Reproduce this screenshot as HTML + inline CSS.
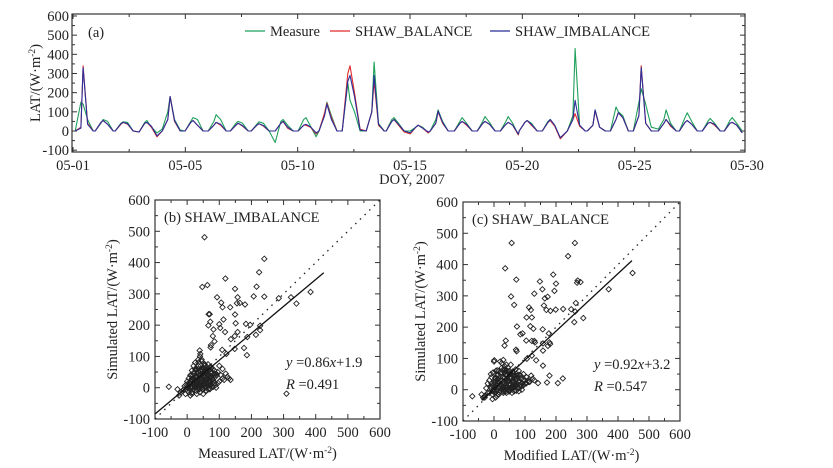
<!DOCTYPE html>
<html><head><meta charset="utf-8">
<style>
html,body{margin:0;padding:0;background:#fff;}
svg{display:block;font-family:"Liberation Serif","Times New Roman",serif;}
</style></head>
<body>
<svg id="fig" width="833" height="468" viewBox="0 0 833 468" xmlns="http://www.w3.org/2000/svg" font-family="Liberation Serif, serif">
<rect x="0" y="0" width="833" height="468" fill="#fff"/>
<g id="pa"></g>
<g id="pb"></g>
<g id="pc"></g>
</svg>
<script>
// ---------- Panel (a) data ----------
const dayPeaks = [0.45,1.34,2.23,3.29,4.32,5.34,6.37,7.35,8.28,9.35,10.37,11.3,12.33,13.40,14.29,15.36,16.25,17.32,18.34,19.37,20.21,21.24,22.35,23.24,24.27,25.29,26.40,27.34,28.36,29.34];
const sampleOffsets = [-0.35,-0.1,0,0.2,0.45];
const measureVals = [
[0,150,140,60,0],[0,40,60,50,0],[0,40,48,45,0],[-5,45,55,20,-10],[10,100,180,60,5],
[0,50,70,60,0],[0,50,85,60,0],[0,40,50,40,0],[0,35,48,40,0],[-60,50,60,30,0],
[0,60,70,25,-30],[0,90,150,80,0],[0,250,160,100,0],[0,100,360,40,0],[0,60,70,40,0],
[0,20,30,20,-10],[0,60,110,50,0],[0,50,70,40,0],[0,50,75,45,0],[0,50,75,40,-20],
[0,45,55,40,0],[0,50,60,30,-40],[0,80,430,30,0],[0,30,110,20,0],[0,125,100,80,0],
[0,150,220,140,20],[10,60,110,40,0],[0,70,95,50,0],[0,50,65,40,0],[0,55,70,40,0]];
const balanceVals = [
[0,20,340,40,0],[0,45,55,35,0],[0,35,45,35,0],[-5,40,45,20,-30],[0,60,180,50,0],
[0,45,55,30,0],[0,30,45,30,0],[0,30,40,25,0],[0,30,38,25,0],[0,40,50,15,0],
[0,30,30,20,-15],[0,95,145,70,0],[0,300,340,200,10],[0,100,260,30,0],[0,50,60,30,-5],
[-15,20,30,15,-10],[0,40,100,40,0],[0,40,50,30,0],[0,40,50,35,0],[0,35,45,30,-20],
[0,45,55,30,0],[0,45,55,25,-40],[0,60,90,25,0],[0,30,105,20,0],[0,60,95,70,0],
[0,80,340,40,0],[0,40,60,25,0],[0,45,55,35,0],[0,40,45,30,0],[0,40,45,30,-10]];
const imbalanceVals = [
[0,15,330,35,0],[0,45,55,35,0],[0,38,45,38,0],[-5,40,45,25,-25],[0,60,180,55,0],
[0,45,55,30,0],[0,30,45,35,0],[0,30,40,28,0],[0,30,38,28,0],[0,40,50,20,0],
[0,30,35,22,-10],[0,80,140,60,0],[0,260,290,180,5],[0,100,290,35,0],[0,50,60,35,0],
[-10,20,30,15,-5],[0,40,105,45,0],[0,40,50,35,0],[0,40,50,35,0],[0,35,45,30,-15],
[0,45,55,35,0],[0,45,60,30,-35],[0,60,160,30,0],[0,30,110,20,0],[0,60,95,70,0],
[0,80,330,40,0],[0,40,60,30,0],[0,45,55,35,0],[0,40,45,35,0],[0,40,45,30,-10]];
const aXTickLabels = ["05-01","05-05","05-10","05-15","05-20","05-25","05-30"];
const aXTickDays = [0,5,10,15,20,25,30];
const aYTicks = [-100,0,100,200,300,400,500,600];

// ---------- Panel (b) data ----------
const bOutX = [54,240,224,119,47,63,216,149,93,207,240,285,323,340,384,106,110,134,155,164,180,157,70,67,113,149,72,66,100,103,82,183,196,118,151,157,148,136,80,85,74,73,227,227,214,187,177,148,186,109,122,309,-57,39,41];
const bOutY = [481,412,369,349,322,328,323,316,289,292,291,286,289,269,306,272,257,257,270,271,266,289,235,235,218,234,211,199,203,191,186,204,201,178,206,178,165,155,165,148,136,129,198,184,169,162,127,124,104,121,108,-19,3,119,108];
const bClX = [-20,-15,-10,-8,-5,-3,0,0,2,4,5,6,8,10,10,12,14,15,15,18,20,20,22,24,25,25,28,30,30,32,34,35,35,38,40,40,42,44,45,45,48,50,50,52,54,55,55,58,60,60,62,64,65,68,70,70,72,75,78,80,80,85,88,90,95,100,105,110,115,120,125,130,135,20,25,30,35,40,45,50,55,60,65,10,15,5,-25,-30,30,40,50,60,70,25,35,45,55,65,75,85,90,100,110];
const bClY = [-15,-10,-5,5,-20,10,0,20,-10,5,30,15,-5,10,40,0,25,-15,55,10,-5,30,45,15,0,60,20,-10,35,5,50,20,70,-5,10,40,25,60,0,30,15,-5,45,20,75,5,35,-10,25,55,10,40,-5,20,30,65,10,45,5,25,60,15,35,0,50,20,40,30,25,45,35,30,25,70,80,60,90,100,85,65,75,50,45,-25,-20,-15,-25,-5,-20,-15,-20,-10,-5,0,80,90,70,75,65,55,45,70,60];
const bCoreX = [5,8,12,15,18,20,22,25,27,30,32,35,37,40,42,45,47,50,52,55,57,60,62,65,67,70,72,75,10,14,18,22,26,30,34,38,42,46,50,54,58,62,66,70,74,78,82,86,16,24,32,40,48,56,64,72,80,88,96,28,36,44,52,60,68,76,84,92,12,20,38,46,54,62,70,78];
const bCoreY = [8,15,5,22,12,30,18,8,35,20,12,28,40,18,32,10,45,25,15,38,22,50,30,12,42,25,18,35,20,28,38,10,25,45,15,32,52,22,40,10,30,48,18,35,8,28,20,40,0,5,-2,2,-5,0,5,-3,2,8,15,55,60,58,62,65,55,50,45,40,38,48,5,12,3,10,8,14];
const bFit = {slope:0.86, intercept:1.9, x0:-100, x1:425};

// ---------- Panel (c) data ----------
const cOutX = [57,239,36,72,55,65,191,200,148,156,130,164,173,195,261,270,279,268,370,447,161,169,182,199,223,113,119,105,122,117,74,85,92,127,177,157,104,122,130,132,158,174,179,158,181,38,34,71,73,259,262,288,264,249,122,106,136,158,179,171,206,222,142,1,-70];
const cOutY = [469,427,388,352,298,271,368,339,346,321,307,292,297,316,469,349,344,342,321,373,269,255,252,256,258,263,255,231,231,203,202,177,180,195,180,193,157,156,156,151,148,140,151,125,146,157,141,128,123,216,250,229,277,257,109,99,94,77,45,23,21,36,21,94,-21];
const cClX = [-40,-35,-30,-25,-20,-15,-10,-8,-5,-3,0,0,2,4,5,6,8,10,10,12,14,15,15,18,20,20,22,24,25,25,28,30,30,32,34,35,35,38,40,40,42,44,45,45,48,50,50,52,54,55,55,58,60,60,62,64,65,68,70,70,72,75,78,80,80,85,88,90,95,100,105,110,115,120,125,130,20,25,30,35,40,45,50,55,60,10,15,5,-20,-10,0,30,40,50,60,70,80,90,100,-30,-5];
const cClY = [-15,-25,-20,5,-10,30,10,40,-15,55,0,25,-10,10,35,60,-5,15,45,0,25,-15,60,10,-5,30,50,15,0,70,20,-10,40,5,55,20,75,-5,10,45,25,60,0,30,15,-5,50,20,80,5,35,-10,25,55,10,45,-5,20,30,65,10,45,5,25,60,15,35,0,50,20,40,30,25,45,35,30,90,85,95,65,80,70,60,50,45,-20,-15,-25,20,50,90,-5,-10,0,5,15,-5,20,30,-25,-30];
const cCoreX = [-10,-5,0,3,6,9,12,15,18,21,24,27,30,33,36,39,42,45,48,51,54,57,60,63,66,69,72,75,78,81,84,0,8,16,24,32,40,48,56,64,72,80,88,96,104,112,-15,-8,4,14,22,30,38,46,54,62,70,78,86,94,10,20,30,40,50,60,70,80];
const cCoreY = [5,12,18,8,28,15,35,5,22,42,12,30,8,25,48,15,35,5,28,18,40,10,30,22,45,12,35,20,8,28,15,-5,0,-8,3,-2,5,-5,2,8,-3,5,10,15,20,25,-10,20,38,48,55,25,60,32,52,15,40,25,45,30,62,18,65,50,38,58,45,48];
const cFit = {slope:0.92, intercept:3.2, x0:-40, x1:445};

// ---------- helpers ----------
const NS = "http://www.w3.org/2000/svg";
const FS = 14.5;
function mk(parent, tag, attrs, text){
  const e = document.createElementNS(NS, tag);
  for (const k in attrs) e.setAttribute(k, attrs[k]);
  if (text !== undefined) e.textContent = text;
  parent.appendChild(e);
  return e;
}
function unitLabel(parent, x, y, pre, rotate){
  const t = mk(parent,'text',{x:x,y:y,'font-size':FS,'text-anchor':'middle',fill:'#222'});
  if (rotate) t.setAttribute('transform','rotate(-90 '+x+' '+y+')');
  t.appendChild(document.createTextNode(pre+'(W·m'));
  const s = document.createElementNS(NS,'tspan');
  s.setAttribute('dy','-5'); s.setAttribute('font-size','9.5'); s.textContent='-2';
  t.appendChild(s);
  const s2 = document.createElementNS(NS,'tspan');
  s2.setAttribute('dy','5'); s2.textContent=')';
  t.appendChild(s2);
  return t;
}

// ---------- Panel (a) ----------
(function(){
  const g = document.getElementById('pa');
  const L=72, R=745, T=14, B=152;
  const xS = d => 73 + d*(747-73)/30;
  const yS = v => 131 - v*0.1917;
  const ax = mk(g,'rect',{x:L,y:T,width:R-L,height:B-T,fill:'none',stroke:'#333','stroke-width':1.2});
   
  for (let d=0; d<=30; d+=2.5){
    const major = aXTickDays.indexOf(d)>=0;
    const xx = xS(d);
    if (xx<L||xx>R) continue;
    mk(g,'line',{x1:xx,x2:xx,y1:B,y2:B-(major?5:3),stroke:'#333','stroke-width':1});
    mk(g,'line',{x1:xx,x2:xx,y1:T,y2:T+(major?5:3),stroke:'#333','stroke-width':1});
  }
  aXTickDays.forEach((d,i)=>{
    const t = mk(g,'text',{x:xS(d),y:170,'font-size':FS,'text-anchor':'middle',fill:'#222'},aXTickLabels[i]);
     
  });
  aYTicks.forEach(v=>{
    const yy=yS(v);
    mk(g,'line',{x1:L,x2:L+5,y1:yy,y2:yy,stroke:'#333'});
    mk(g,'line',{x1:R,x2:R-5,y1:yy,y2:yy,stroke:'#333'});
    if (v<600){ mk(g,'line',{x1:L,x2:L+3,y1:yS(v+50),y2:yS(v+50),stroke:'#333'}); mk(g,'line',{x1:R,x2:R-3,y1:yS(v+50),y2:yS(v+50),stroke:'#333'}); }
    const t = mk(g,'text',{x:L-3,y:yy+5,'font-size':FS,'text-anchor':'end',fill:'#222'},String(v));
     
  });
  function series(vals,color,name){
    let pts=[];
    dayPeaks.forEach((p,i)=>{ sampleOffsets.forEach((o,j)=>{ pts.push(xS(p+o).toFixed(1)+','+yS(vals[i][j]).toFixed(1)); }); });
    const pl = mk(g,'polyline',{points:pts.join(' '),fill:'none',stroke:color,'stroke-width':1.1,'stroke-linejoin':'round'});
     
  }
  series(measureVals,'#1fa05a','series-measure');
  series(balanceVals,'#e02a2a','series-shaw-balance');
  series(imbalanceVals,'#2b2f9a','series-shaw-imbalance');
  const lab = mk(g,'text',{x:88,y:37,'font-size':FS,fill:'#222'},'(a)');
   
  const leg = mk(g,'g',{});
   
  [['#1fa05a',245,'Measure'],['#e02a2a',330,'SHAW_BALANCE'],['#2b2f9a',490,'SHAW_IMBALANCE']].forEach(e=>{
    const le = mk(leg,'g',{});
     
    mk(le,'line',{x1:e[1],x2:e[1]+20,y1:31,y2:31,stroke:e[0],'stroke-width':1.2});
    mk(le,'text',{x:e[1]+25,y:36,'font-size':FS,fill:'#222'},e[2]);
  });
  const yl = unitLabel(g,40,83,'LAT/',true);
   
  const xl = mk(g,'text',{x:412,y:184,'font-size':FS,'text-anchor':'middle',fill:'#222'},'DOY, 2007');
   
})();

// ---------- Scatter panels ----------
function scatter(gid, box, outX, outY, clX, clY, coX, coY, fit, title, xtitle, eq, r){
  const g = document.getElementById(gid);
  const {L,R,T,B} = box;
  const xS = v => L + (v+100)*(R-L)/700;
  const yS = v => B - (v+100)*(B-T)/700;
  const fr = mk(g,'rect',{x:L,y:T,width:R-L,height:B-T,fill:'none',stroke:'#333','stroke-width':1.2});
   
  for (let v=-100; v<=600; v+=50){
    const major = v%100===0;
    const xx=xS(v), yy=yS(v), len=major?5:3;
    mk(g,'line',{x1:xx,x2:xx,y1:B,y2:B-len,stroke:'#333'});
    mk(g,'line',{x1:xx,x2:xx,y1:T,y2:T+len,stroke:'#333'});
    mk(g,'line',{x1:L,x2:L+len,y1:yy,y2:yy,stroke:'#333'});
    mk(g,'line',{x1:R,x2:R-len,y1:yy,y2:yy,stroke:'#333'});
    if (major){
      const tx = mk(g,'text',{x:xx,y:B+18,'font-size':FS,'text-anchor':'middle',fill:'#222'},String(v));
       
      const ty = mk(g,'text',{x:L-5,y:yy+5,'font-size':FS,'text-anchor':'end',fill:'#222'},String(v));
       
    }
  }
  const dl = mk(g,'line',{x1:xS(-100),y1:yS(-100),x2:xS(600),y2:yS(600),stroke:'#222','stroke-width':1.3,'stroke-dasharray':'1.5 5'});
   
  const pts = mk(g,'g',{fill:'none',stroke:'#222','stroke-width':0.9});
   
  function dia(x,y){
    const cx=xS(x), cy=yS(y), s=2.7;
    const p = mk(pts,'path',{d:'M'+cx+' '+(cy-s)+'L'+(cx+s)+' '+cy+'L'+cx+' '+(cy+s)+'L'+(cx-s)+' '+cy+'Z'});
     
  }
  clX.forEach((x,i)=>dia(x,clY[i]));
  coX.forEach((x,i)=>dia(x,coY[i]));
  outX.forEach((x,i)=>dia(x,outY[i]));
  const fl = mk(g,'line',{x1:xS(fit.x0),y1:yS(fit.slope*fit.x0+fit.intercept),x2:xS(fit.x1),y2:yS(fit.slope*fit.x1+fit.intercept),stroke:'#111','stroke-width':1.3});
   
  const tt = mk(g,'text',{x:L+9,y:T+22,'font-size':FS,fill:'#222'},title);
   
  const e1 = mk(g,'text',{x:L+131,y:B-52,'font-size':FS,fill:'#222'});
   
  e1.innerHTML = '<tspan font-style="italic">y</tspan> =0.'+eq[0]+'<tspan font-style="italic">x</tspan>+'+eq[1];
  const e2 = mk(g,'text',{x:L+131,y:B-30,'font-size':FS,fill:'#222'});
   
  e2.innerHTML = '<tspan font-style="italic">R</tspan> ='+r;
  const xt = unitLabel(g,(L+R)/2,B+39,xtitle,false);
   
  const yt = unitLabel(g,L-38,(T+B)/2,'Simulated LAT/',true);
   
}
scatter('pb',{L:155,R:380,T:200,B:419},bOutX,bOutY,bClX,bClY,bCoreX,bCoreY,bFit,'(b) SHAW_IMBALANCE','Measured LAT/',['86','1.9'],'0.491');
scatter('pc',{L:463,R:680,T:202,B:421},cOutX,cOutY,cClX,cClY,cCoreX,cCoreY,cFit,'(c) SHAW_BALANCE','Modified LAT/',['92','3.2'],'0.547');
</script>
</body></html>
